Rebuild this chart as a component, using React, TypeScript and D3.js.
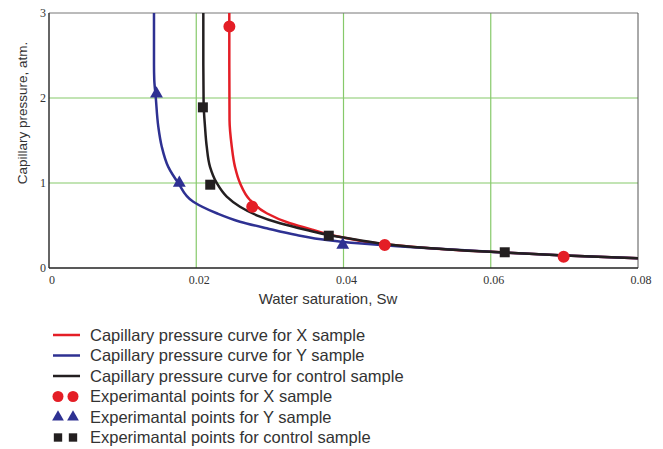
import * as d3 from "d3";

// curve points: [Sw, Pc]
const redCurve: [number, number][] = [
  [0.02449, 3.0], [0.02449, 2.4], [0.02452, 1.74], [0.02482, 1.43], [0.02526, 1.19],
  [0.02594, 1.0], [0.0273, 0.8], [0.02957, 0.644], [0.03273, 0.526], [0.0359, 0.447],
  [0.03908, 0.375], [0.0456, 0.28], [0.05, 0.245], [0.06, 0.19], [0.07, 0.148], [0.08, 0.115],
];
const blueCurve: [number, number][] = [
  [0.01426, 3.0], [0.01426, 2.4], [0.0143, 2.21], [0.01449, 2.02], [0.01485, 1.66],
  [0.01531, 1.43], [0.0162, 1.19], [0.01756, 1.0], [0.0196, 0.78], [0.02278, 0.644],
  [0.02594, 0.545], [0.02957, 0.467], [0.03364, 0.388], [0.03772, 0.329], [0.042, 0.29],
  [0.046, 0.265], [0.05, 0.24], [0.06, 0.19], [0.07, 0.148], [0.08, 0.115],
];
const blackCurve: [number, number][] = [
  [0.02096, 3.0], [0.02096, 2.4], [0.021, 1.94], [0.02119, 1.66], [0.02142, 1.43],
  [0.02187, 1.19], [0.02278, 1.0], [0.02414, 0.84], [0.02594, 0.72], [0.02821, 0.62],
  [0.03138, 0.526], [0.035, 0.447], [0.03817, 0.385], [0.042, 0.33], [0.046, 0.28],
  [0.05, 0.245], [0.06, 0.19], [0.07, 0.148], [0.08, 0.115],
];

const redPoints: [number, number][] = [[0.0245, 2.84], [0.0276, 0.72], [0.0456, 0.27], [0.0699, 0.133]];
const bluePoints: [number, number][] = [[0.0146, 2.05], [0.0177, 1.0], [0.0399, 0.27]];
const blackPoints: [number, number][] = [[0.0209, 1.89], [0.0219, 0.98], [0.038, 0.38], [0.0619, 0.185]];

const xTicks = [0, 0.02, 0.04, 0.06, 0.08];
const yTicks = [0, 1, 2, 3];

const legendLabels = [
  "Capillary pressure curve for X sample",
  "Capillary pressure curve for Y sample",
  "Capillary pressure curve for control sample",
  "Experimantal points for X sample",
  "Experimantal points for Y sample",
  "Experimantal points for control sample",
];

const RED = "#e41e26";
const BLUE = "#2e3192";
const BLACK = "#231f20";
const GRID = "#86c96a";
const TEXT = "#333";
const SERIF = "'Liberation Serif', 'Times New Roman', 'DejaVu Serif', serif";
const SANS = "'Liberation Sans', Arial, sans-serif";

const left = 49, right = 638, top = 13, bottom = 268;

export default function App() {
  const x = d3.scaleLinear().domain([0, 0.08]).range([left, right]);
  const y = d3.scaleLinear().domain([0, 3]).range([bottom, top]);

  const line = d3
    .line<[number, number]>()
    .x((d) => x(d[0]))
    .y((d) => y(d[1]))
    .curve(d3.curveMonotoneY);

  const circle = d3.symbol().type(d3.symbolCircle).size(113)();
  const tri = d3.symbol().type(d3.symbolTriangle).size(72)();
  const square = d3.symbol().type(d3.symbolSquare).size(100)();
  const circleSm = d3.symbol().type(d3.symbolCircle).size(95)();
  const triSm = d3.symbol().type(d3.symbolTriangle).size(60)();
  const squareSm = d3.symbol().type(d3.symbolSquare).size(70)();

  const curves = [
    { data: redCurve, color: RED },
    { data: blueCurve, color: BLUE },
    { data: blackCurve, color: BLACK },
  ];
  const points = [
    { data: redPoints, color: RED, path: circle },
    { data: bluePoints, color: BLUE, path: tri },
    { data: blackPoints, color: BLACK, path: square },
  ];
  const legendSym = [circleSm, triSm, squareSm];
  const legendColors = [RED, BLUE, BLACK];

  return (
    <svg
      width={663}
      height={449}
      style={{ position: "absolute", left: 0, top: 0, background: "#fff", fontFamily: SANS }}
    >
      <defs>
        <clipPath id="plot">
          <rect x={left} y={top} width={right - left} height={bottom - top} />
        </clipPath>
      </defs>

      {/* grid */}
      {xTicks.slice(1, -1).map((t) => (
        <line key={"gx" + t} x1={x(t)} x2={x(t)} y1={top} y2={bottom} stroke={GRID} strokeWidth={1.2} />
      ))}
      {yTicks.slice(1, -1).map((t) => (
        <line key={"gy" + t} x1={left} x2={right} y1={y(t)} y2={y(t)} stroke={GRID} strokeWidth={1.2} />
      ))}

      {/* frame */}
      <line x1={left} x2={right} y1={top} y2={top} stroke="#777" strokeWidth={1} />
      <line x1={right} x2={right} y1={top} y2={bottom} stroke="#555" strokeWidth={1} />
      <line x1={left} x2={left} y1={top} y2={bottom} stroke="#333" strokeWidth={1.5} />
      <line x1={left} x2={right} y1={bottom} y2={bottom} stroke="#222" strokeWidth={1.5} />

      <g clipPath="url(#plot)">
        {curves.map((c, i) => (
          <path key={i} d={line(c.data) || ""} fill="none" stroke={c.color} strokeWidth={2.5} />
        ))}
        {points.map((p, i) =>
          p.data.map((d, j) => (
            <path
              key={i + "-" + j}
              d={p.path || ""}
              transform={`translate(${x(d[0])},${y(d[1])})`}
              fill={p.color}
            />
          ))
        )}
      </g>

      {/* tick labels */}
      {xTicks.map((t) => (
        <text
          key={"tx" + t}
          x={x(t) + 3}
          y={bottom + 16}
          textAnchor="middle"
          style={{ fontFamily: SERIF, fontSize: 12 }}
          fill={TEXT}
        >
          {t === 0 ? "0" : d3.format(".2f")(t)}
        </text>
      ))}
      {yTicks.map((t) => (
        <text
          key={"ty" + t}
          x={left - 3}
          y={y(t) + 4}
          textAnchor="end"
          style={{ fontFamily: SERIF, fontSize: 12 }}
          fill={TEXT}
        >
          {t}
        </text>
      ))}

      {/* axis titles */}
      <text x={328} y={304} textAnchor="middle" style={{ fontSize: 15 }} fill={TEXT}>
        Water saturation, Sw
      </text>
      <text
        transform="translate(27,113) rotate(-90)"
        textAnchor="middle"
        style={{ fontSize: 13.5 }}
        fill={TEXT}
      >
        Capillary pressure, atm.
      </text>

      {/* legend */}
      {legendLabels.map((label, i) => {
        const ly = 335 + i * 20.5;
        const color = legendColors[i % 3];
        return (
          <g key={label}>
            {i < 3 ? (
              <line x1={53} x2={80} y1={ly} y2={ly} stroke={color} strokeWidth={2.5} />
            ) : (
              [58, 73].map((lx) => (
                <path key={lx} d={legendSym[i - 3] || ""} transform={`translate(${lx},${ly})`} fill={color} />
              ))
            )}
            <text x={90} y={ly + 5.5} style={{ fontSize: 16.5 }} fill={TEXT}>
              {label}
            </text>
          </g>
        );
      })}
    </svg>
  );
}
